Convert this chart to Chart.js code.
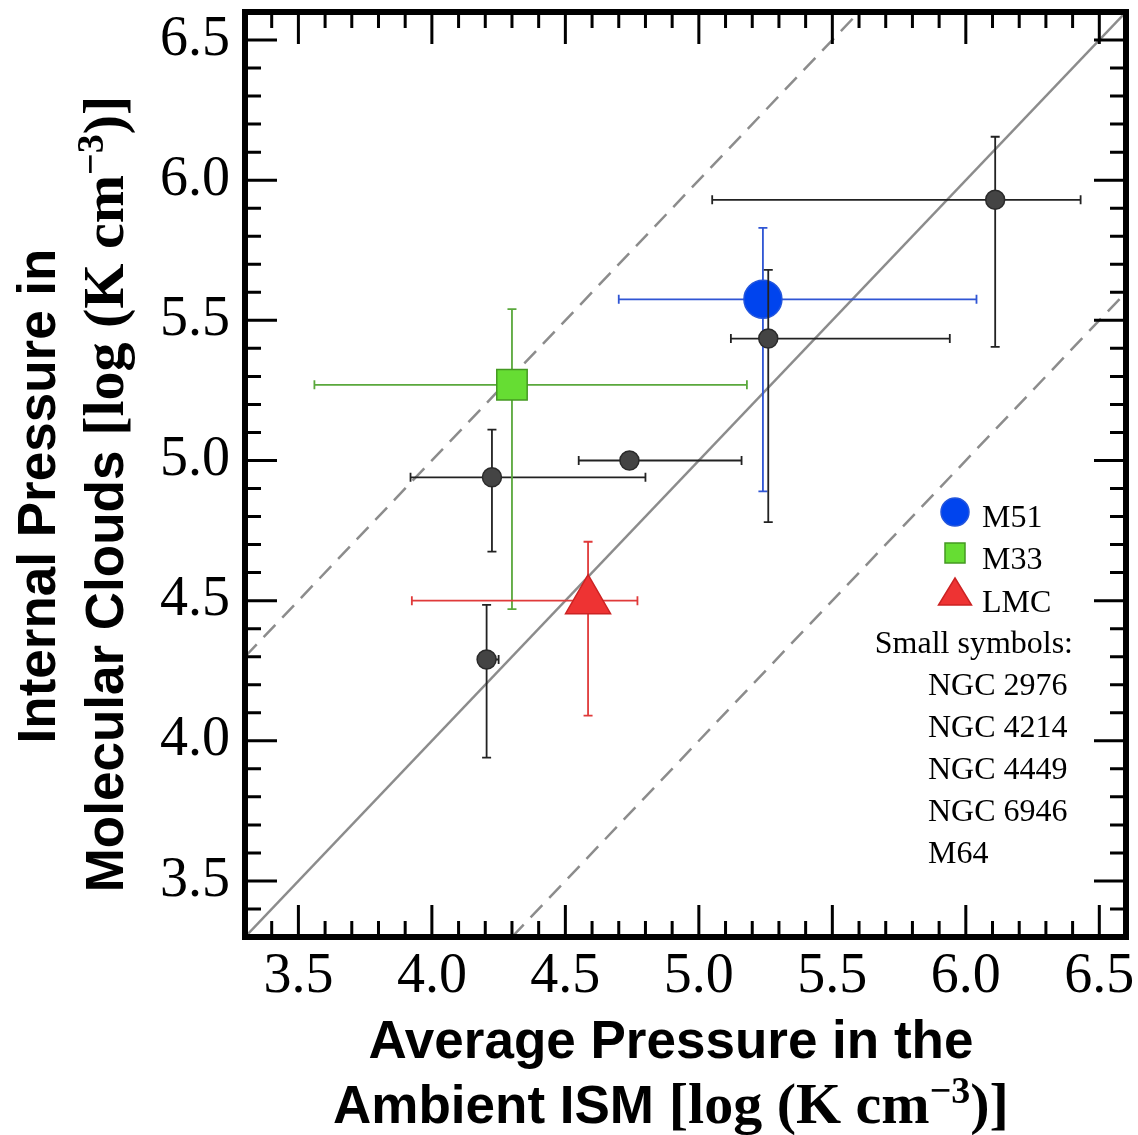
<!DOCTYPE html>
<html><head><meta charset="utf-8">
<script src="https://cdn.jsdelivr.net/npm/chart.js@4/dist/chart.umd.min.js"></script>
<style>html,body{margin:0;padding:0;background:#fff;} #wrap{width:1138px;height:1135px;}</style>
</head><body><div id="wrap"><canvas id="c" width="1138" height="1135"></canvas></div>
<script>
// ---- axis ----
const axisMin = 3.3, axisMax = 6.6;
const tickValues = [3.5, 4.0, 4.5, 5.0, 5.5, 6.0, 6.5];

// ---- highlighted galaxies ----
const bigNames = ['M51', 'M33', 'LMC'];
const bigX   = [5.24, 4.30, 4.585];
const bigY   = [5.575, 5.27, 4.50];
const bigXLo = [4.70, 3.56, 3.925];
const bigXHi = [6.04, 5.18, 4.77];
const bigYLo = [4.89, 4.47, 4.09];
const bigYHi = [5.83, 5.54, 4.71];

// ---- small symbols ----
const smallNames = ['NGC 2976', 'NGC 4214', 'NGC 4449', 'NGC 6946', 'M64'];
const smallX   = [6.11, 5.26, 4.74, 4.225, 4.205];
const smallY   = [5.93, 5.435, 5.00, 4.94, 4.29];
const smallXLo = [5.05, 5.12, 4.55, 3.92, 4.185];
const smallXHi = [6.43, 5.94, 5.16, 4.80, 4.25];
const smallYLo = [5.405, 4.78, 5.00, 4.675, 3.94];
const smallYHi = [6.155, 5.68, 5.00, 5.11, 4.485];

// ---- reference lines (1:1 and +/- 1 dex) ----
const lineEqual = [[3.3, 3.3], [6.6, 6.6]];
const lineUpper = [[3.3, 4.3], [5.6, 6.6]];
const lineLower = [[4.3, 3.3], [6.6, 5.6]];

const toPts = (arr) => arr.map(p => ({x: p[0], y: p[1]}));

const SERIF = '"Liberation Serif", "Times New Roman", serif';
const SANS = '"Liberation Sans", Arial, sans-serif';

const errorBars = {
  id: 'errorBars',
  beforeDatasetDraw(chart, args) {
    const ds = chart.data.datasets[args.index];
    if (!ds.err) return;
    const {ctx} = chart; const xs = chart.scales.x, ys = chart.scales.y;
    const e = ds.err, cap = 4.5;
    ctx.save();
    ctx.strokeStyle = e.color; ctx.lineWidth = e.width; ctx.lineCap = 'butt';
    ds.data.forEach((p, i) => {
      const px = xs.getPixelForValue(p.x), py = ys.getPixelForValue(p.y);
      const xl = xs.getPixelForValue(e.xLo[i]), xh = xs.getPixelForValue(e.xHi[i]);
      const yl = ys.getPixelForValue(e.yLo[i]), yh = ys.getPixelForValue(e.yHi[i]);
      ctx.beginPath();
      if (e.xLo[i] !== e.xHi[i]) {
        ctx.moveTo(xl, py); ctx.lineTo(xh, py);
        ctx.moveTo(xl, py - cap); ctx.lineTo(xl, py + cap);
        ctx.moveTo(xh, py - cap); ctx.lineTo(xh, py + cap);
      }
      if (e.yLo[i] !== e.yHi[i]) {
        ctx.moveTo(px, yl); ctx.lineTo(px, yh);
        ctx.moveTo(px - cap, yl); ctx.lineTo(px + cap, yl);
        ctx.moveTo(px - cap, yh); ctx.lineTo(px + cap, yh);
      }
      ctx.stroke();
    });
    ctx.restore();
  }
};

function drawParts(ctx, parts, cx, baseY) {
  let total = 0;
  parts.forEach(p => { ctx.font = p.font; p.w = ctx.measureText(p.text).width; total += p.w; });
  let x = cx - total / 2;
  parts.forEach(p => { ctx.font = p.font; ctx.fillText(p.text, x, baseY - (p.dy || 0)); x += p.w; });
}

function titleParts(prefix) {
  return [
    {text: prefix, font: 'bold 53px ' + SANS},
    {text: '[log (K cm', font: 'bold 58px ' + SERIF},
    {text: '\u22123', font: 'bold 38px ' + SERIF, dy: 20},
    {text: ')]', font: 'bold 58px ' + SERIF}
  ];
}

const framePlugin = {
  id: 'frame',
  afterDatasetsDraw(chart) {
    const {ctx, chartArea: a} = chart; const xs = chart.scales.x, ys = chart.scales.y;
    ctx.save();
    ctx.strokeStyle = '#000'; ctx.lineWidth = 3;
    ctx.beginPath();
    for (let k = 34; k <= 65; k++) {
      const v = k / 10, len = (k % 5 === 0) ? 32 : 16;
      const px = xs.getPixelForValue(v), py = ys.getPixelForValue(v);
      ctx.moveTo(px, a.bottom); ctx.lineTo(px, a.bottom - len);
      ctx.moveTo(px, a.top); ctx.lineTo(px, a.top + len);
      ctx.moveTo(a.left, py); ctx.lineTo(a.left + len, py);
      ctx.moveTo(a.right, py); ctx.lineTo(a.right - len, py);
    }
    ctx.stroke();
    ctx.lineWidth = 6;
    ctx.strokeRect(a.left, a.top, a.right - a.left, a.bottom - a.top);
    ctx.restore();
  },
  afterDraw(chart) {
    const {ctx} = chart;
    ctx.save();
    ctx.fillStyle = '#000'; ctx.textBaseline = 'alphabetic'; ctx.textAlign = 'left';
    // x title
    drawParts(ctx, [{text: 'Average Pressure in the', font: 'bold 53px ' + SANS}], 671, 1058);
    drawParts(ctx, titleParts('Ambient ISM '), 671, 1123);
    // y title
    ctx.save();
    ctx.translate(55, 496); ctx.rotate(-Math.PI / 2);
    drawParts(ctx, [{text: 'Internal Pressure in', font: 'bold 53px ' + SANS}], 0, 0);
    ctx.restore();
    ctx.save();
    ctx.translate(123, 494); ctx.rotate(-Math.PI / 2);
    drawParts(ctx, titleParts('Molecular Clouds '), 0, 0);
    ctx.restore();

    // legend
    const mx = 955;
    ctx.fillStyle = '#0044ee'; ctx.strokeStyle = '#2255dd'; ctx.lineWidth = 1.5;
    ctx.beginPath(); ctx.arc(mx, 512, 14, 0, Math.PI * 2); ctx.fill(); ctx.stroke();
    ctx.fillStyle = '#66dd33'; ctx.strokeStyle = '#449922';
    ctx.fillRect(mx - 10, 543, 20, 20); ctx.strokeRect(mx - 10, 543, 20, 20);
    ctx.fillStyle = '#ee3333'; ctx.strokeStyle = '#cc2222';
    ctx.beginPath(); ctx.moveTo(mx, 578); ctx.lineTo(mx + 16.5, 605); ctx.lineTo(mx - 16.5, 605); ctx.closePath(); ctx.fill(); ctx.stroke();
    ctx.fillStyle = '#000';
    ctx.font = '32px ' + SERIF;
    ctx.fillText(bigNames[0], 982, 527);
    ctx.fillText(bigNames[1], 982, 569);
    ctx.fillText(bigNames[2], 982, 612);
    ctx.textAlign = 'right';
    ctx.fillText('Small symbols:', 1073, 653);
    ctx.textAlign = 'left';
    smallNames.forEach((n, i) => ctx.fillText(n, 928, 695 + i * 42));
    ctx.restore();
  }
};

const lineStyle = {showLine: true, pointRadius: 0, borderColor: '#8c8c8c', borderWidth: 2.5, fill: false, order: 10};

const datasets = [
  Object.assign({label: '1:1', data: toPts(lineEqual)}, lineStyle),
  Object.assign({label: '+1', data: toPts(lineUpper), borderDash: [17, 10]}, lineStyle),
  Object.assign({label: '-1', data: toPts(lineLower), borderDash: [17, 10]}, lineStyle),
];
const bigStyles = [
  {pointStyle: 'circle', pointRadius: 19, backgroundColor: '#0044ee', borderColor: '#2255dd', err: '#2f55d4', order: 4},
  {pointStyle: 'rect', pointRadius: 21.5, backgroundColor: '#66dd33', borderColor: '#449922', err: '#5aa83c', order: 2},
  {pointStyle: 'triangle', pointRadius: 26, backgroundColor: '#ee3333', borderColor: '#cc2222', err: '#e03a3a', order: 1},
];
bigNames.forEach((n, i) => {
  const s = bigStyles[i];
  datasets.push({
    label: n, data: [{x: bigX[i], y: bigY[i]}],
    pointStyle: s.pointStyle, pointRadius: s.pointRadius, pointBackgroundColor: s.backgroundColor,
    pointBorderColor: s.borderColor, pointBorderWidth: 1.5, order: s.order,
    err: {xLo: [bigXLo[i]], xHi: [bigXHi[i]], yLo: [bigYLo[i]], yHi: [bigYHi[i]], color: s.err, width: 1.8}
  });
});
datasets.push({
  label: 'Small symbols', data: smallX.map((x, i) => ({x, y: smallY[i]})),
  pointStyle: 'circle', pointRadius: 9.5, pointBackgroundColor: '#444444', pointBorderColor: '#2a2a2a',
  pointBorderWidth: 1.5, order: 3,
  err: {xLo: smallXLo, xHi: smallXHi, yLo: smallYLo, yHi: smallYHi, color: '#222222', width: 1.8}
});

const tickFont = {family: SERIF, size: 56};
new Chart(document.getElementById('c'), {
  type: 'scatter',
  data: {datasets},
  options: {
    responsive: false, animation: false, devicePixelRatio: 1,
    layout: {autoPadding: false, padding: {top: 12, right: 12, left: 0, bottom: 0}},
    plugins: {legend: {display: false}, tooltip: {enabled: false}},
    scales: {
      x: {
        type: 'linear', min: axisMin, max: axisMax,
        grid: {display: false, drawTicks: false}, border: {display: false},
        ticks: {font: tickFont, color: '#000', padding: 7, maxRotation: 0, autoSkip: false,
                callback: v => Number(v).toFixed(1)},
        afterBuildTicks: s => { s.ticks = tickValues.map(v => ({value: v})); },
        afterFit: s => { s.height = 198; s.paddingLeft = 0; s.paddingRight = 0; }
      },
      y: {
        type: 'linear', min: axisMin, max: axisMax,
        grid: {display: false, drawTicks: false}, border: {display: false},
        ticks: {font: tickFont, color: '#000', padding: 15, autoSkip: false,
                callback: v => Number(v).toFixed(1)},
        afterBuildTicks: s => { s.ticks = tickValues.map(v => ({value: v})); },
        afterFit: s => { s.width = 245; s.paddingTop = 0; s.paddingBottom = 0; }
      }
    }
  },
  plugins: [errorBars, framePlugin]
});
</script>
</body></html>
